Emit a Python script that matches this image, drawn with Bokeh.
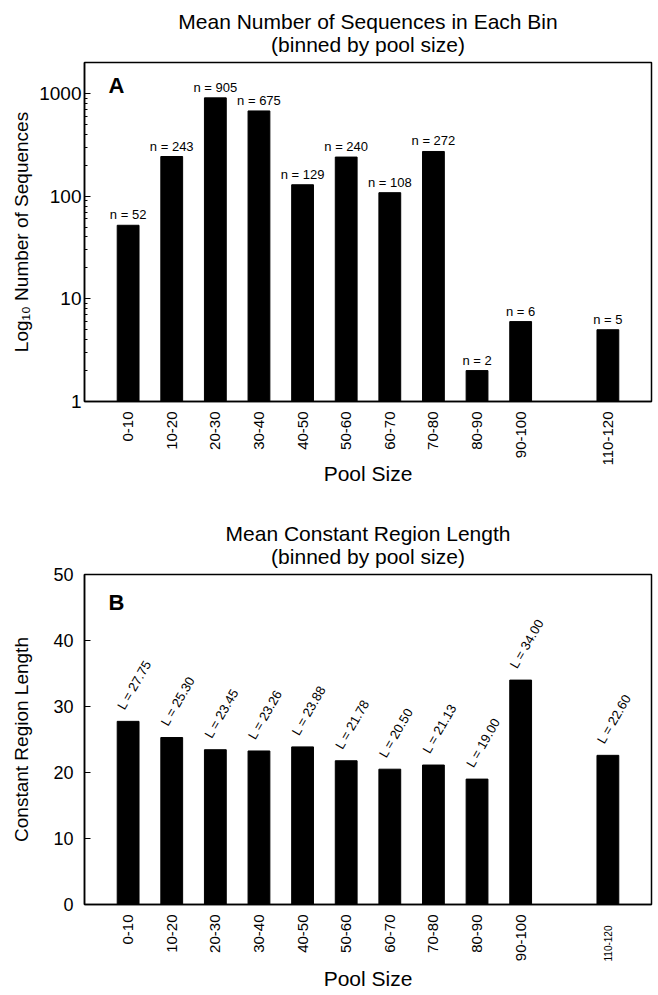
import math
from bokeh.plotting import figure
from bokeh.models import (ColumnDataSource, LabelSet, Label, Range1d, FixedTicker,
                          BasicTickFormatter, LinearAxis)
from bokeh.core.properties import value
from bokeh.layouts import column
from bokeh.embed import file_html
from bokeh.resources import INLINE

# ---- data ----
bins = ["0-10", "10-20", "20-30", "30-40", "40-50", "50-60", "60-70", "70-80",
        "80-90", "90-100", "110-120"]
slots = [0, 1, 2, 3, 4, 5, 6, 7, 8, 9, 11]
n_seqs = [52, 243, 905, 675, 129, 240, 108, 272, 2, 6, 5]
mean_len = [27.75, 25.30, 23.45, 23.26, 23.88, 21.78, 20.50, 21.13, 19.00, 34.00, 22.60]
y_ticks_a = [1, 10, 100, 1000]
y_ticks_b = [0, 10, 20, 30, 40, 50]

FONT = "Liberation Sans"

src_a = ColumnDataSource(dict(x=slots, n=n_seqs, lab=["n = %d" % v for v in n_seqs]))
src_b = ColumnDataSource(dict(x=slots, L=mean_len, lab=["L = %.2f" % v for v in mean_len]))


def base_axis(ax):
    ax.axis_line_width = 1.5
    ax.axis_line_color = "black"
    ax.major_label_text_font = FONT
    ax.axis_label_text_font = FONT
    ax.axis_label_text_font_style = "normal"
    ax.major_label_text_color = "black"
    ax.axis_label_text_color = "black"


def style(p, ylabel):
    p.xgrid.visible = False
    p.ygrid.visible = False
    p.outline_line_color = "black"
    p.outline_line_width = 1.5
    p.outline_line_alpha = 1.0
    p.background_fill_color = "white"
    p.border_fill_color = "white"
    base_axis(p.xaxis[0])
    base_axis(p.yaxis[0])
    xa = p.xaxis[0]
    xa.ticker = FixedTicker(ticks=slots)
    xa.major_label_overrides = {s: b for s, b in zip(slots, bins)}
    xa.major_label_orientation = math.pi / 2
    xa.major_label_text_font_size = "15px"
    xa.major_tick_in = 0
    xa.major_tick_out = 0
    xa.minor_tick_in = 0
    xa.minor_tick_out = 0
    xa.major_label_standoff = 10
    xa.axis_label = "Pool Size"
    xa.axis_label_text_font_size = "21px"
    ya = p.yaxis[0]
    ya.major_tick_in = 6
    ya.major_tick_out = 0
    ya.major_tick_line_width = 1.2
    ya.minor_tick_in = 3
    ya.minor_tick_out = 0
    ya.axis_label = ylabel
    ya.axis_label_text_font_size = "19px"


def title_axis(text, standoff):
    ax = LinearAxis(ticker=FixedTicker(ticks=[]), axis_label=text)
    base_axis(ax)
    ax.axis_line_color = None
    ax.major_tick_in = 0
    ax.major_tick_out = 0
    ax.minor_tick_in = 0
    ax.minor_tick_out = 0
    ax.major_label_standoff = 0
    ax.axis_label_text_font_size = "21px"
    ax.axis_label_standoff = standoff
    return ax


def add_title(p, line1, line2):
    p.add_layout(title_axis(line2, 7), "above")
    p.add_layout(title_axis(line1, -3), "above")


# ---- panel A ----
pA = figure(width=658, height=500, x_range=Range1d(-1, 12), y_range=Range1d(1, 2000),
            y_axis_type="log", output_backend="svg", toolbar_location=None,
            min_border_left=84, min_border_right=7, min_border_top=62, min_border_bottom=99)
style(pA, "Log\u2081\u2080 Number of Sequences")
pA.xaxis[0].axis_label_standoff = -6
ya = pA.yaxis[0]
ya.major_label_text_font_size = "19px"
ya.major_label_standoff = 3
ya.axis_label_standoff = 4
minor_a = [m * d for d in y_ticks_a for m in range(2, 10) if m * d <= 2000]
ya.ticker = FixedTicker(ticks=y_ticks_a, minor_ticks=minor_a)
ya.formatter = BasicTickFormatter()
pA.vbar(x="x", top="n", bottom=1, width=0.5, source=src_a, fill_color="black", line_color="black")
pA.add_layout(LabelSet(x="x", y="n", text="lab", source=src_a, text_align="center",
                       text_baseline="bottom", y_offset=3, text_font=value(FONT),
                       text_font_size="13px", text_color="black"))
pA.add_layout(Label(x=-0.45, y=1000, y_offset=8, text="A", text_font=FONT, text_font_size="22px",
                    text_font_style="bold", text_baseline="alphabetic", text_color="black"))
add_title(pA, "Mean Number of Sequences in Each Bin", "(binned by pool size)")

# ---- panel B ----
pB = figure(width=658, height=495, x_range=Range1d(-1, 12), y_range=Range1d(0, 50),
            output_backend="svg", toolbar_location=None,
            min_border_left=84, min_border_right=7, min_border_top=74, min_border_bottom=91)
style(pB, "Constant Region Length")
yb = pB.yaxis[0]
yb.major_label_text_font_size = "18px"
yb.major_label_standoff = 11
yb.axis_label_standoff = 18
yb.ticker = FixedTicker(ticks=y_ticks_b)
xb = pB.xaxis[0]
xb.major_label_overrides = {s: (b if s != slots[-1] else "") for s, b in zip(slots, bins)}
xb.axis_label = None
# second bottom axis carrying only the small last label and the axis title
xb2 = LinearAxis(ticker=FixedTicker(ticks=[slots[-1]]),
                 major_label_overrides={slots[-1]: bins[-1]})
base_axis(xb2)
xb2.axis_line_color = None
xb2.major_tick_in = 0
xb2.major_tick_out = 0
xb2.minor_tick_in = 0
xb2.minor_tick_out = 0
xb2.major_label_orientation = math.pi / 2
xb2.major_label_text_font_size = "10px"
xb2.major_label_standoff = -39
xb2.axis_label = "Pool Size"
xb2.axis_label_text_font_size = "21px"
xb2.axis_label_standoff = 3
pB.add_layout(xb2, "below")
pB.vbar(x="x", top="L", bottom=0, width=0.5, source=src_b, fill_color="black", line_color="black")
pB.add_layout(LabelSet(x="x", y="L", text="lab", source=src_b, text_align="left",
                       text_baseline="bottom", angle=math.radians(60), x_offset=-1, y_offset=9,
                       text_font=value(FONT), text_font_size="13px", text_color="black"))
pB.add_layout(Label(x=-0.45, y=45, y_offset=5, text="B", text_font=FONT, text_font_size="22px",
                    text_font_style="bold", text_baseline="alphabetic", text_color="black"))
add_title(pB, "Mean Constant Region Length", "(binned by pool size)")

layout = column(pA, pB, spacing=0)
open("out.html", "w").write(file_html(layout, INLINE))
